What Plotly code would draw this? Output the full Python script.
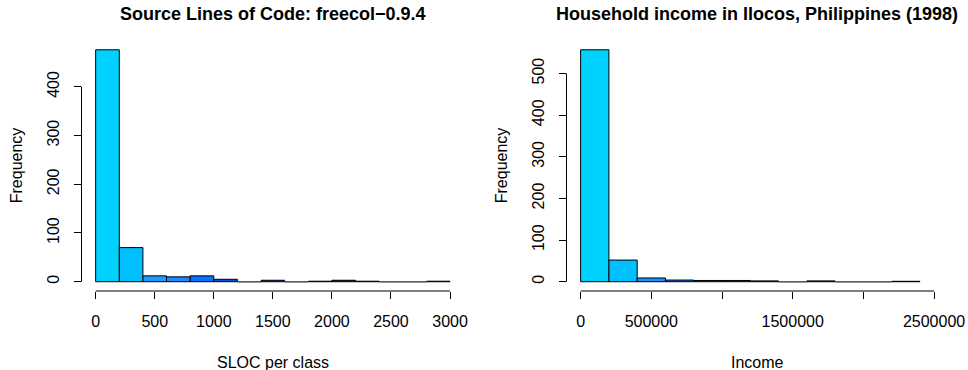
import plotly.graph_objects as go

# ---------------- data ----------------
sloc_breaks = [0, 200, 400, 600, 800, 1000, 1200, 1400, 1600, 1800, 2000, 2200, 2400, 2600, 2800, 3000]
sloc_counts = [476, 70, 12, 10, 12, 5, 0, 3, 0, 1, 3, 1, 0, 0, 1]
sloc_xticks = [0, 500, 1000, 1500, 2000, 2500, 3000]
sloc_xticklabels = ["0", "500", "1000", "1500", "2000", "2500", "3000"]
sloc_yticks = [0, 100, 200, 300, 400]
sloc_yticklabels = ["0", "100", "200", "300", "400"]

income_breaks = [0, 200000, 400000, 600000, 800000, 1000000, 1200000, 1400000,
                 1600000, 1800000, 2000000, 2200000, 2400000]
income_counts = [557, 52, 9, 4, 3, 3, 2, 0, 2, 0, 0, 1]
income_xlim = [0, 2500000]
income_xticks = [0, 500000, 1000000, 1500000, 2000000, 2500000]
income_xticklabels = ["0", "500000", "", "1500000", "", "2500000"]
income_yticks = [0, 100, 200, 300, 400, 500]
income_yticklabels = ["0", "100", "200", "300", "400", "500"]

titles = ["Source Lines of Code: freecol\u22120.9.4", "Household income in Ilocos, Philippines (1998)"]
xlabels = ["SLOC per class", "Income"]
ylabel = "Frequency"

# ---------------- style ----------------
sloc_colors = ["#00D2FF", "#00BFFF", "#1C9CFF", "#1E88FF", "#0A6EFF", "#0050E0", "#0040C0",
               "#0030A0", "#002080", "#001870", "#001060", "#000850", "#000440", "#000230", "#000020"]
income_colors = ["#00D2FF", "#00BFFF", "#1C90FF", "#1070F0", "#0050D0", "#0040B0", "#002070",
                 "#001060", "#000840", "#000430", "#000220", "#000010"]

W, H = 968, 370
FONT = "Liberation Sans, Arial, Helvetica, sans-serif"
TICK_SIZE = 16
TITLE_SIZE = 18
plot_left = [81.5, 566.5]
plot_right = [464.2, 948.2]
plot_top, plot_bottom = 40.5, 291.0

fig = go.Figure()


def ext(lo, hi):
    d = (hi - lo) * 0.04
    return [lo - d, hi + d]


panels = [
    dict(breaks=sloc_breaks, counts=sloc_counts, colors=sloc_colors,
         xlim=[sloc_breaks[0], sloc_breaks[-1]], xt=sloc_xticks, xtl=sloc_xticklabels,
         yt=sloc_yticks, ytl=sloc_yticklabels),
    dict(breaks=income_breaks, counts=income_counts, colors=income_colors,
         xlim=income_xlim, xt=income_xticks, xtl=income_xticklabels,
         yt=income_yticks, ytl=income_yticklabels),
]

shapes = []
annotations = []
for i, p in enumerate(panels):
    xa = "x" if i == 0 else "x2"
    ya = "y" if i == 0 else "y2"
    br = p["breaks"]
    centers = [(br[k] + br[k + 1]) / 2 for k in range(len(br) - 1)]
    widths = [br[k + 1] - br[k] for k in range(len(br) - 1)]
    fig.add_trace(go.Bar(x=centers, y=p["counts"], width=widths, xaxis=xa, yaxis=ya,
                         marker=dict(color=p["colors"], line=dict(color="#000000", width=1)),
                         hoverinfo="skip", showlegend=False))
    # zero-count bins drawn as outline on baseline (like R)
    zx, zy = [], []
    for k, c in enumerate(p["counts"]):
        if c == 0:
            zx += [br[k], br[k + 1], None]
            zy += [0, 0, None]
    if zx:
        fig.add_trace(go.Scatter(x=zx, y=zy, mode="lines", xaxis=xa, yaxis=ya,
                                 line=dict(color="#777777", width=1), hoverinfo="skip",
                                 showlegend=False))
    xr = ext(*p["xlim"])
    yr = ext(0, max(p["counts"]))
    p["xr"], p["yr"] = xr, yr
    fx = lambda v, xr=xr: (v - xr[0]) / (xr[1] - xr[0])
    fy = lambda v, yr=yr: (v - yr[0]) / (yr[1] - yr[0])
    dom_x = xa + " domain"
    dom_y = ya + " domain"
    # R-style axis lines spanning first..last tick
    shapes.append(dict(type="line", xref=dom_x, yref=dom_y, x0=fx(p["xt"][0]), x1=fx(p["xt"][-1]),
                       y0=0, y1=0, line=dict(color="black", width=1)))
    shapes.append(dict(type="line", xref=dom_x, yref=dom_y, x0=0, x1=0,
                       y0=fy(p["yt"][0]), y1=fy(p["yt"][-1]), line=dict(color="black", width=1)))
    annotations.append(dict(text="<b>" + titles[i] + "</b>", xref=dom_x, x=0.5, yref="paper",
                            y=1 - 14 / H, xanchor="center", yanchor="middle", showarrow=False,
                            font=dict(family=FONT, size=TITLE_SIZE, color="black")))
    annotations.append(dict(text=xlabels[i], xref=dom_x, x=0.5, yref="paper", y=1 - 362 / H,
                            xanchor="center", yanchor="middle", showarrow=False,
                            font=dict(family=FONT, size=TICK_SIZE, color="black")))
    annotations.append(dict(text=ylabel, xref="paper", x=(plot_left[i] - 65) / W, yref=dom_y, y=0.5,
                            xanchor="center", yanchor="middle", textangle=-90, showarrow=False,
                            font=dict(family=FONT, size=TICK_SIZE, color="black")))

axis_common = dict(showgrid=False, zeroline=False, showline=False, ticks="outside", ticklen=7,
                   tickwidth=1, tickcolor="black", tickmode="array", automargin=False,
                   tickfont=dict(family=FONT, size=TICK_SIZE, color="black"), fixedrange=True)
ydom = [(H - plot_bottom) / H, (H - plot_top) / H]
layout = dict(width=W, height=H, autosize=False,
              margin=dict(l=0, r=0, t=0, b=0, pad=0, autoexpand=False),
              paper_bgcolor="white", plot_bgcolor="white",
              font=dict(family=FONT, color="black"), shapes=shapes, annotations=annotations,
              barmode="overlay")
for i, p in enumerate(panels):
    sx = "xaxis" if i == 0 else "xaxis2"
    sy = "yaxis" if i == 0 else "yaxis2"
    layout[sx] = dict(axis_common, domain=[plot_left[i] / W, plot_right[i] / W], range=p["xr"],
                      tickvals=p["xt"], ticktext=p["xtl"], anchor="y" if i == 0 else "y2",
                      ticklabelstandoff=9)
    layout[sy] = dict(axis_common, domain=ydom, range=p["yr"], tickvals=p["yt"], ticktext=p["ytl"],
                      tickangle=-90, anchor="x" if i == 0 else "x2", ticklabelstandoff=8)

fig.update_layout(**layout)
fig.write_html("out.html", config={"responsive": False, "displayModeBar": False})
